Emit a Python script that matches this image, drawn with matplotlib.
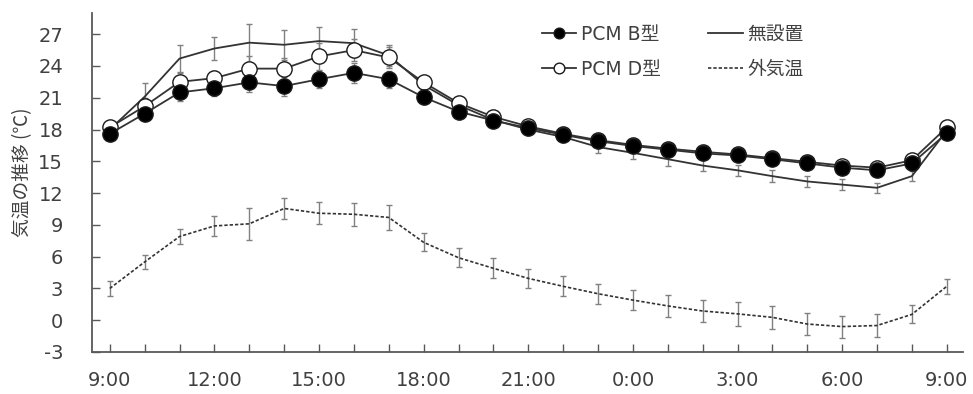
import numpy as np
import matplotlib
matplotlib.use("Agg")
import matplotlib.pyplot as plt

plt.rcParams['font.family'] = ['DejaVu Sans', 'Noto Sans CJK JP']
plt.rcParams['axes.unicode_minus'] = False

# data (hourly, 9:00 -> 9:00 next day)
hours = np.arange(25)
tick_labels = ["9:00", "", "", "12:00", "", "", "15:00", "", "", "18:00", "", "",
               "21:00", "", "", "0:00", "", "", "3:00", "", "", "6:00", "", "", "9:00"]

pcm_b = [17.6, 19.5, 21.5, 21.9, 22.45, 22.1, 22.75, 23.35, 22.75, 21.05, 19.7, 18.85,
         18.15, 17.5, 16.9, 16.45, 16.1, 15.75, 15.55, 15.2, 14.8, 14.4, 14.15, 14.8, 17.65]
pcm_b_err = [0.3, 0.6, 0.8, 0.7, 0.9, 0.9, 0.8, 0.95, 0.8, 0.6, 0.5, 0.5,
             0.45, 0.45, 0.45, 0.45, 0.45, 0.45, 0.45, 0.45, 0.45, 0.45, 0.45, 0.4, 0.3]

pcm_d = [18.2, 20.2, 22.5, 22.85, 23.75, 23.75, 24.9, 25.5, 24.8, 22.45, 20.5, 19.2,
         18.3, 17.6, 17.0, 16.55, 16.2, 15.9, 15.65, 15.3, 14.95, 14.6, 14.4, 15.1, 18.2]
pcm_d_err = [0.3, 0.8, 0.8, 0.7, 1.2, 1.0, 1.3, 1.0, 1.0, 0.6, 0.5, 0.5,
             0.45, 0.45, 0.45, 0.45, 0.45, 0.45, 0.45, 0.45, 0.45, 0.45, 0.45, 0.4, 0.3]

no_pcm = [18.0, 21.1, 24.7, 25.65, 26.2, 26.0, 26.35, 26.15, 25.0, 22.2, 20.3, 18.9,
          18.0, 17.3, 16.35, 15.8, 15.2, 14.6, 14.15, 13.6, 13.1, 12.8, 12.5, 13.6, 17.9]
no_pcm_err = [0.3, 1.3, 1.3, 1.1, 1.8, 1.4, 1.3, 1.35, 1.0, 0.6, 0.5, 0.5,
              0.5, 0.5, 0.55, 0.6, 0.6, 0.55, 0.5, 0.55, 0.55, 0.55, 0.5, 0.5, 0.3]

outside = [3.0, 5.5, 7.9, 8.9, 9.1, 10.55, 10.1, 10.0, 9.7, 7.35, 5.9, 4.9,
           3.95, 3.2, 2.5, 1.9, 1.35, 0.87, 0.6, 0.27, -0.36, -0.6, -0.5, 0.55, 3.2]
outside_err = [0.7, 0.7, 0.75, 0.95, 1.5, 0.97, 1.04, 1.07, 1.16, 0.85, 0.88, 0.96,
               0.91, 0.94, 0.96, 0.97, 1.0, 1.0, 1.13, 1.07, 1.07, 1.04, 1.04, 0.85, 0.69]

line_c = '#333333'
err_c = '#808080'
text_c = '#404040'

fig = plt.figure(figsize=(9.73, 3.94), dpi=100)
ax = fig.add_axes([0.0949, 0.1066, 0.895, 0.8604])

eb = dict(fmt='none', ecolor=err_c, elinewidth=1.0, capsize=2.2, capthick=1.0)

# outside air
ax.errorbar(hours, outside, yerr=outside_err, zorder=2, **eb)
ax.plot(hours, outside, color=line_c, lw=1.2, ls=(0, (2, 1.2)), zorder=3, label="外気温")

# no installation
ax.errorbar(hours, no_pcm, yerr=no_pcm_err, zorder=2, **eb)
ax.plot(hours, no_pcm, color=line_c, lw=1.3, zorder=3, label="無設置")

# PCM D (open)
ax.errorbar(hours, pcm_d, yerr=pcm_d_err, zorder=2, **eb)
ax.plot(hours, pcm_d, color=line_c, lw=1.3, marker='o', ms=11, mfc='white',
        mec='#1a1a1a', mew=1.0, zorder=4, label="PCM D型")

# PCM B (filled)
ax.errorbar(hours, pcm_b, yerr=pcm_b_err, zorder=2, **eb)
ax.plot(hours, pcm_b, color=line_c, lw=1.3, marker='o', ms=11, mfc='black',
        mec='#1a1a1a', mew=1.0, zorder=5, label="PCM B型")

ax.set_xlim(-0.5, 24.47)
ax.set_ylim(-3, 29)
ax.set_xticks(hours)
ax.set_xticklabels(tick_labels)
ax.set_yticks(np.arange(-3, 28, 3))

for s in ['top', 'right']:
    ax.spines[s].set_visible(False)
for s in ['left', 'bottom']:
    ax.spines[s].set_color('#595959')
    ax.spines[s].set_linewidth(1.3)

ax.tick_params(axis='both', direction='in', length=5.5, width=1.0, color='#595959',
               labelsize=14, labelcolor=text_c)
ax.tick_params(axis='y', pad=21)
ax.tick_params(axis='x', pad=14)

ax.set_ylabel("気温の推移 (℃)", fontsize=13.5, color=text_c, labelpad=4,
              family=['Noto Sans CJK JP', 'DejaVu Sans'])
ax.yaxis.label.set_y(0.53)

h, l = ax.get_legend_handles_labels()
order = [3, 2, 1, 0]
fig.legend([h[i] for i in order], [l[i] for i in order], ncol=2,
           loc='upper left', bbox_to_anchor=(541.7 / 973, 1 - 25 / 394),
           frameon=False, fontsize=13.5, handlelength=1.85, handletextpad=0.25,
           columnspacing=2.5, labelspacing=0.85, borderpad=0, borderaxespad=0,
           markerscale=0.7, labelcolor=text_c)

fig.savefig("out.png", dpi=100)
